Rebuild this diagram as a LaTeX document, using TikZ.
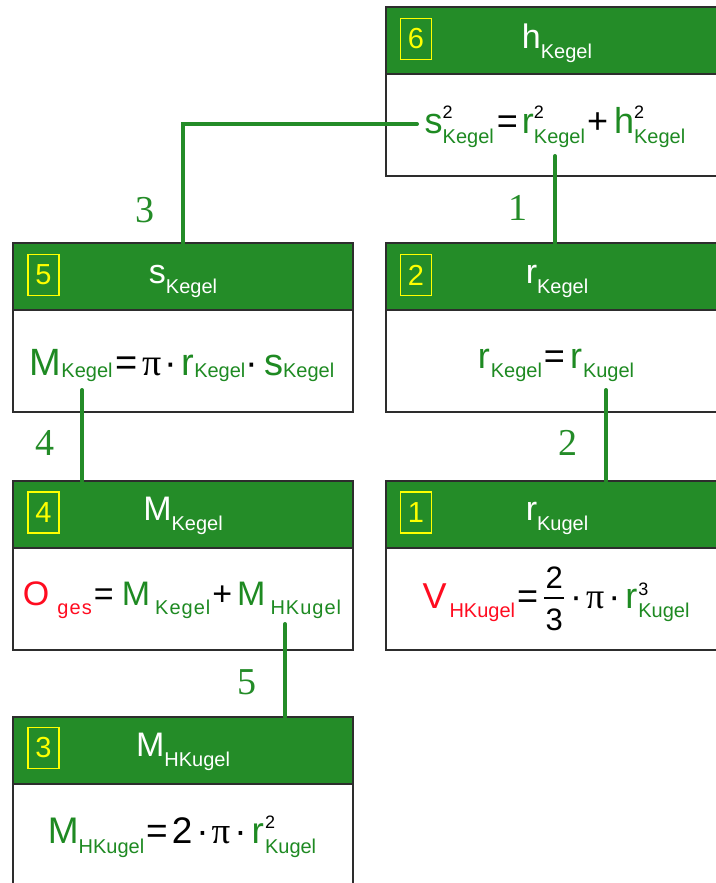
\documentclass[tikz,border=0pt]{standalone}
\usepackage{fontspec}
\setmainfont{Liberation Sans}
\newfontfamily\numfont{Liberation Serif}
\newfontfamily\pifont{Liberation Serif}

\definecolor{hdrgreen}{RGB}{36,140,40}
\definecolor{txtgreen}{RGB}{30,138,34}
\definecolor{txtred}{RGB}{255,12,32}
\definecolor{edgegray}{RGB}{45,45,45}
\definecolor{tagyellow}{RGB}{255,255,0}

% font size in bp
\newcommand\fs[1]{\fontsize{#1bp}{#1bp}\selectfont}
% coloured pieces
\newcommand\G[1]{{\color{txtgreen}#1}}
\newcommand\R[1]{{\color{txtred}#1}}
% lowered index, optional drop
\newcommand\lo[2][9]{\raisebox{-#1bp}{\fs{20}#2}}
% index with an exponent stacked above it
\newcommand\losup[4][9]{\makebox[0pt][l]{\raisebox{#2bp}{\fs{18}\color{black}#3}}\raisebox{-#1bp}{\fs{20}#4}}
% two-line fraction
\newcommand\vfrac[2]{\makebox[22bp]{\makebox[0pt]{\raisebox{20bp}{#1}}\makebox[0pt]{\raisebox{-22bp}{#2}}\makebox[0pt]{\raisebox{9.3bp}{\rule{20bp}{1.4bp}}}}}
\newcommand\piglyph{{\pifont π}}

\tikzset{
  hdr/.style={draw=edgegray, line width=1.5bp, fill=hdrgreen, minimum width=340bp,
    minimum height=67bp, inner sep=0, outer sep=0, anchor=north west},
  bodybox/.style={draw=edgegray, line width=1.5bp, fill=white, minimum width=340bp,
    minimum height=102bp, inner sep=0, outer sep=0, anchor=north west},
  tag/.style={draw=tagyellow, line width=1.2bp, text=tagyellow, minimum width=31bp,
    minimum height=41bp, inner sep=0, font=\fs{29}},
  hdrtext/.style={text=white, inner sep=0, anchor=base, font=\fs{34}},
  formula/.style={inner sep=0, anchor=base, font=\fs{35}},
  link/.style={draw=hdrgreen, line width=4bp, line cap=round},
  linknum/.style={text=hdrgreen, inner sep=0, font=\numfont\fs{38}}
}

\begin{document}
\begin{tikzpicture}[x=1bp, y=-1bp]
\clip (0,0) rectangle (716,883);
\fill[white] (0,0) rectangle (716,883);

% ---- boxes: header strip and formula field ----
\node[hdr] (h6) at (386,7) {};
\node[bodybox] (b6) at (386,74) {};
\node[hdr] (h5) at (13,243) {};
\node[bodybox] (b5) at (13,310) {};
\node[hdr] (h2) at (386,243) {};
\node[bodybox] (b2) at (386,310) {};
\node[hdr] (h4) at (13,481) {};
\node[bodybox] (b4) at (13,548) {};
\node[hdr] (h1) at (386,481) {};
\node[bodybox] (b1) at (386,548) {};
\node[hdr] (h3) at (13,717) {};
\node[bodybox] (b3) at (13,784) {};

% ---- step numbers ----
\node[tag] (n6) at (416,39) {6};
\node[tag] (n5) at (43.5,275) {5};
\node[tag] (n2) at (416,275) {2};
\node[tag] (n4) at (43.5,512.5) {4};
\node[tag] (n1) at (416,512.5) {1};
\node[tag] (n3) at (43.5,748) {3};

% ---- header quantities ----
\node[hdrtext] (t6) at (557,48) {h\lo[10]{Kegel}};
\node[hdrtext] (t5) at (183,283) {s\lo[10]{Kegel}};
\node[hdrtext] (t2) at (557,283) {r\lo[10]{Kegel}};
\node[hdrtext] (t4) at (183,520) {M\lo[10]{Kegel}};
\node[hdrtext] (t1) at (557,520) {r\lo[10]{Kugel}};
\node[hdrtext] (t3) at (183,756) {M\lo[10]{HKugel}};

% ---- formulas ----
\node[formula, font=\fs{36}] (f6) at (555,133)
  {\G{s\losup[10]{15}{2}{Kegel}}\hspace{3bp}=\hspace{4bp}\G{r\losup[10]{15}{2}{Kegel}}\hspace{2bp}+\hspace{6bp}\G{h\losup[10]{15}{2}{Kegel}}};
\node[formula, font=\fs{38}] (f5) at (182,375)
  {\G{M\lo[2]{Kegel}}\hspace{3bp}=\hspace{5bp}\piglyph\hspace{3bp}·\hspace{4bp}\G{r\lo[2]{Kegel}}·\hspace{6bp}\G{s\lo[2]{Kegel}}};
\node[formula, font=\fs{36}] (f2) at (556,368)
  {\G{r\hspace{1bp}\lo{Kegel}}\hspace{2bp}=\hspace{5bp}\G{r\hspace{1bp}\lo{Kugel}}};
\node[formula, font=\fs{34}] (f4) at (182,605)
  {\R{O\hspace{8bp}\lo{\addfontfeatures{LetterSpace=6}ges}}\hspace{2bp}=\hspace{8bp}\G{M\hspace{5bp}\lo{\addfontfeatures{LetterSpace=5}Kegel}}\hspace{2bp}+\hspace{5bp}\G{M\hspace{5bp}\lo{\addfontfeatures{LetterSpace=5}HKugel}}};
\node[formula, font=\fs{36}] (f1) at (556,608)
  {\R{V\hspace{3bp}\lo{HKugel}}\hspace{2bp}=\hspace{5bp}{\fs{31}\vfrac{2}{3}}\hspace{5bp}·\hspace{4bp}\piglyph\hspace{4bp}·\hspace{5bp}\G{r\hspace{1bp}\losup{13}{3}{Kugel}}};
\node[formula, font=\fs{37}] (f3) at (182,843)
  {\G{M\lo[10]{HKugel}}\hspace{2bp}=\hspace{4bp}2\hspace{4bp}·\hspace{3bp}\piglyph\hspace{4bp}·\hspace{5bp}\G{r\hspace{1bp}\losup[10]{15}{2}{Kugel}}};

% ---- connectors from a formula term to the header it feeds ----
\coordinate (c1) at (555,156);
\coordinate (c3) at (417,124);
\coordinate (c4) at (82,390);
\coordinate (c2) at (606,390);
\coordinate (c5) at (285,624);

\draw[link] (c1) -- (c1 |- h2.north);
\draw[link] (c3) -| (h5.north);
\draw[link] (c4) -- (c4 |- h4.north);
\draw[link] (c2) -- (c2 |- h1.north);
\draw[link] (c5) -- (c5 |- h3.north);

\node[linknum] (l1) at (518,208) {1};
\node[linknum] (l3) at (145,210) {3};
\node[linknum] (l4) at (45,443) {4};
\node[linknum] (l2) at (568,443) {2};
\node[linknum] (l5) at (247,682) {5};
\end{tikzpicture}
\end{document}
